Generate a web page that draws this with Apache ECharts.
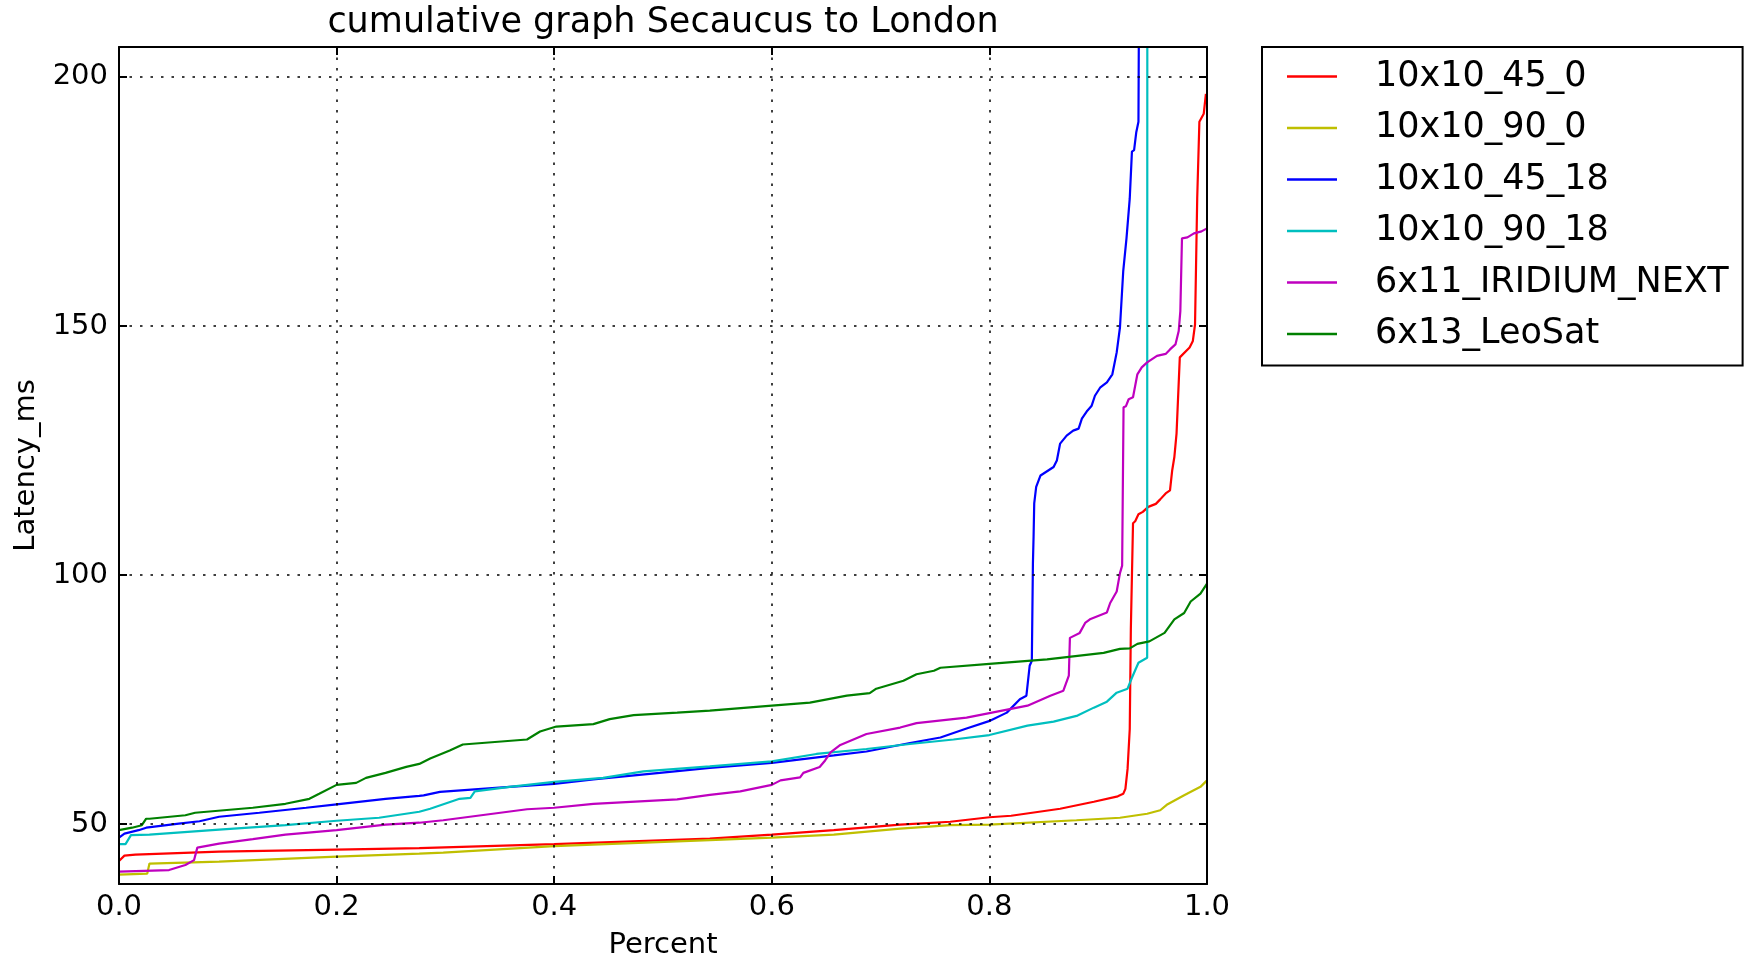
<!DOCTYPE html>
<html>
<head>
<meta charset="utf-8">
<script src="https://cdn.jsdelivr.net/npm/echarts@6/dist/echarts.min.js"></script>
<style>
  html, body { margin: 0; padding: 0; background: #ffffff; }
  #chart { width: 1747px; height: 965px; }
</style>
</head>
<body>
<div id="chart"></div>
<script>
// Cumulative latency curves, Secaucus -> London, one per constellation layout.
// Each list holds [fraction of samples, latency in ms] pairs.
const seriesNames = ['10x10_45_0', '10x10_90_0', '10x10_45_18', '10x10_90_18', '6x11_IRIDIUM_NEXT', '6x13_LeoSat'];
const seriesColors = ['#ff0000', '#bfbf00', '#0000ff', '#00bfbf', '#bf00bf', '#008000'];

const lat_10x10_45_0 = [
  [0, 42.6], [0.005, 43.7], [0.015, 43.9], [0.092, 44.5], [0.2, 44.9], [0.276, 45.2], [0.4, 46.0],
  [0.543, 47.1], [0.6, 47.9], [0.657, 48.8], [0.718, 49.9], [0.764, 50.5], [0.8, 51.4], [0.82, 51.7],
  [0.865, 53.1], [0.896, 54.5], [0.918, 55.6], [0.923, 56.1], [0.925, 57.1], [0.927, 61.1], [0.929, 69.1],
  [0.930, 89.1], [0.932, 110.4], [0.934, 110.8], [0.937, 112.2], [0.941, 112.7], [0.946, 113.7],
  [0.953, 114.3], [0.957, 115.2], [0.962, 116.4], [0.966, 117.0], [0.968, 121.0], [0.970, 123.7],
  [0.972, 128.4], [0.975, 143.7], [0.984, 145.7], [0.987, 147.0], [0.989, 150.3], [0.991, 175.6],
  [0.993, 191.0], [0.997, 192.6], [0.999, 196.6]
];
const lat_10x10_90_0 = [
  [0, 39.9], [0.026, 40.1], [0.028, 42.1], [0.092, 42.5], [0.2, 43.5], [0.276, 44.1], [0.298, 44.3],
  [0.4, 45.6], [0.543, 46.8], [0.6, 47.3], [0.657, 47.9], [0.718, 49.1], [0.764, 49.8], [0.8, 49.9],
  [0.88, 50.8], [0.92, 51.3], [0.945, 52.1], [0.957, 52.8], [0.963, 53.9], [0.979, 55.8], [0.994, 57.5],
  [1.0, 58.8]
];
const lat_10x10_45_18 = [
  [0, 47.3], [0.005, 48.1], [0.018, 48.8], [0.025, 49.3], [0.055, 50.1], [0.074, 50.6], [0.092, 51.5],
  [0.129, 52.3], [0.172, 53.3], [0.2, 54.0], [0.245, 55.1], [0.276, 55.7], [0.280, 55.8], [0.295, 56.5],
  [0.359, 57.5], [0.4, 58.1], [0.436, 59.0], [0.497, 60.3], [0.543, 61.3], [0.6, 62.3], [0.657, 63.8],
  [0.687, 64.6], [0.727, 66.3], [0.755, 67.4], [0.779, 69.2], [0.801, 70.8], [0.816, 72.4], [0.828, 75.1],
  [0.834, 75.8], [0.837, 81.8], [0.839, 82.8], [0.840, 102.4], [0.8406, 107.7], [0.8412, 114.4],
  [0.843, 117.7], [0.847, 120.0], [0.859, 121.7], [0.862, 123.0], [0.865, 126.4], [0.871, 128.0],
  [0.877, 129.0], [0.882, 129.4], [0.885, 131.4], [0.890, 133.0], [0.894, 134.0], [0.897, 136.0],
  [0.902, 137.7], [0.908, 138.7], [0.913, 140.3], [0.917, 144.7], [0.920, 149.7], [0.923, 161.0],
  [0.926, 167.6], [0.929, 175.6], [0.931, 185.0], [0.933, 185.3], [0.935, 188.9], [0.937, 191.0],
  [0.938, 240.0]
];
const lat_10x10_90_18 = [
  [0, 46.0], [0.006, 46.0], [0.011, 47.8], [0.028, 47.9], [0.092, 48.9], [0.153, 49.8], [0.2, 50.7],
  [0.239, 51.3], [0.276, 52.5], [0.286, 53.1], [0.313, 55.1], [0.323, 55.3], [0.327, 56.6], [0.359, 57.5],
  [0.4, 58.5], [0.445, 59.3], [0.482, 60.6], [0.543, 61.6], [0.6, 62.6], [0.641, 64.1], [0.687, 65.1],
  [0.727, 66.1], [0.767, 67.0], [0.8, 67.9], [0.835, 69.8], [0.859, 70.6], [0.881, 71.8], [0.896, 73.4],
  [0.908, 74.6], [0.917, 76.4], [0.927, 77.2], [0.931, 79.4], [0.937, 82.4], [0.945, 83.4],
  [0.9452, 260.0]
];
const lat_6x11_IRIDIUM_NEXT = [
  [0, 40.5], [0.046, 40.8], [0.061, 41.8], [0.069, 42.8], [0.072, 45.3], [0.092, 46.1], [0.123, 47.0],
  [0.153, 47.9], [0.2, 48.8], [0.245, 49.9], [0.276, 50.3], [0.298, 50.8], [0.375, 53.0], [0.4, 53.3],
  [0.436, 54.1], [0.513, 55.0], [0.543, 55.9], [0.571, 56.6], [0.6, 57.9], [0.608, 58.8], [0.626, 59.4],
  [0.629, 60.3], [0.644, 61.5], [0.649, 62.8], [0.654, 64.4], [0.663, 65.9], [0.687, 68.1], [0.718, 69.4],
  [0.733, 70.3], [0.779, 71.4], [0.8, 72.3], [0.835, 73.8], [0.856, 75.8], [0.868, 76.8], [0.873, 79.8],
  [0.874, 87.4], [0.883, 88.4], [0.888, 90.4], [0.893, 91.2], [0.908, 92.5], [0.911, 94.4], [0.917, 96.7],
  [0.920, 100.4], [0.922, 101.9], [0.9233, 133.7], [0.9255, 133.9], [0.928, 135.3], [0.932, 135.7],
  [0.936, 140.3], [0.940, 141.7], [0.945, 142.7], [0.954, 144.0], [0.962, 144.4], [0.966, 145.3],
  [0.971, 146.3], [0.974, 149.0], [0.9755, 153.0], [0.977, 167.6], [0.982, 167.8], [0.988, 168.6],
  [0.995, 169.0], [1.0, 169.6]
];
const lat_6x13_LeoSat = [
  [0, 48.8], [0.012, 49.3], [0.021, 49.8], [0.025, 51.1], [0.028, 51.1], [0.061, 51.8], [0.07, 52.3],
  [0.123, 53.3], [0.153, 54.1], [0.175, 55.1], [0.184, 56.1], [0.2, 57.9], [0.218, 58.3], [0.227, 59.3],
  [0.245, 60.3], [0.264, 61.5], [0.276, 62.1], [0.286, 63.2], [0.304, 64.8], [0.316, 66.0], [0.375, 67.0],
  [0.387, 68.6], [0.402, 69.6], [0.436, 70.1], [0.451, 71.1], [0.473, 71.9], [0.513, 72.4], [0.543, 72.8],
  [0.6, 73.8], [0.635, 74.4], [0.669, 75.8], [0.690, 76.3], [0.696, 77.2], [0.721, 78.8], [0.733, 80.1],
  [0.749, 80.8], [0.755, 81.4], [0.8, 82.2], [0.853, 83.1], [0.905, 84.4], [0.920, 85.2], [0.929, 85.3],
  [0.936, 86.2], [0.947, 86.7], [0.961, 88.4], [0.970, 91.1], [0.979, 92.4], [0.985, 94.7], [0.994, 96.3],
  [1.0, 98.3]
];
const seriesData = [lat_10x10_45_0, lat_10x10_90_0, lat_10x10_45_18, lat_10x10_90_18, lat_6x11_IRIDIUM_NEXT, lat_6x13_LeoSat];

const chartTitle = 'cumulative graph Secaucus to London';
const xName = 'Percent';
const yName = 'Latency_ms';
const xRange = [0, 1];
const yRange = [38, 206];

const FONT = '"DejaVu Sans", sans-serif';
const INK = '#000000';

const gridDash = { color: INK, width: 1.5, type: [2.5, 8] };

function xAxisCommon(pos, main) {
  return {
    type: 'value', position: pos, min: xRange[0], max: xRange[1], interval: 0.2,
    axisLine: { show: true, onZero: false, lineStyle: { color: INK, width: 2 } },
    axisTick: { show: true, inside: true, length: 8, lineStyle: { color: INK, width: 2 } },
    axisLabel: {
      show: main, margin: 9, color: INK, fontFamily: FONT, fontSize: 29,
      formatter: v => v.toFixed(1)
    },
    splitLine: { show: main, lineStyle: gridDash },
    name: main ? xName : '', nameLocation: 'middle', nameGap: 47,
    nameTextStyle: { color: INK, fontFamily: FONT, fontSize: 29 },
    z: 5
  };
}
function yAxisCommon(pos, main) {
  return {
    type: 'value', position: pos, min: yRange[0], max: yRange[1],
    splitNumber: 3, minInterval: 50, maxInterval: 50,
    axisLine: { show: true, onZero: false, lineStyle: { color: INK, width: 2 } },
    axisTick: { show: true, inside: true, length: 8, lineStyle: { color: INK, width: 2 } },
    axisLabel: {
      show: main, margin: 11, color: INK, fontFamily: FONT, fontSize: 29,
      showMinLabel: false, showMaxLabel: false,
      formatter: v => (v % 50 === 0 ? String(v) : '')
    },
    splitLine: { show: main, lineStyle: gridDash },
    name: main ? yName : '', nameLocation: 'middle', nameGap: 78, nameRotate: 90,
    nameTextStyle: { color: INK, fontFamily: FONT, fontSize: 29 },
    z: 5
  };
}

const chart = echarts.init(document.getElementById('chart'), null, { renderer: 'canvas' });
chart.setOption({
  animation: false,
  backgroundColor: '#ffffff',
  grid: { left: 119, top: 47, width: 1088, height: 842, containLabel: false },
  xAxis: [xAxisCommon('bottom', true), xAxisCommon('top', false)],
  yAxis: [yAxisCommon('left', true), yAxisCommon('right', false)],
  legend: {
    left: 1262, top: 47, orient: 'vertical',
    padding: [12, 14, 14, 25],
    itemGap: 16.5, itemWidth: 50, itemHeight: 2.5,
    icon: 'rect',
    borderColor: INK, borderWidth: 2, borderRadius: 0, backgroundColor: '#ffffff',
    selectedMode: false,
    textStyle: { color: INK, fontFamily: FONT, fontSize: 35, lineHeight: 35, padding: [0, 0, 0, 33] },
    data: seriesNames
  },
  graphic: [{
    type: 'text', x: 663, y: 23, z: 10,
    style: {
      text: chartTitle, fill: INK, font: '35px "DejaVu Sans", sans-serif',
      textAlign: 'center', textVerticalAlign: 'middle'
    }
  }],
  series: seriesNames.map((name, i) => ({
    name: name, type: 'line', xAxisIndex: 0, yAxisIndex: 0,
    data: seriesData[i], showSymbol: false, symbol: 'none', clip: true,
    lineStyle: { color: seriesColors[i], width: 2.2 },
    itemStyle: { color: seriesColors[i] },
    emphasis: { disabled: true }
  }))
});
</script>
</body>
</html>
